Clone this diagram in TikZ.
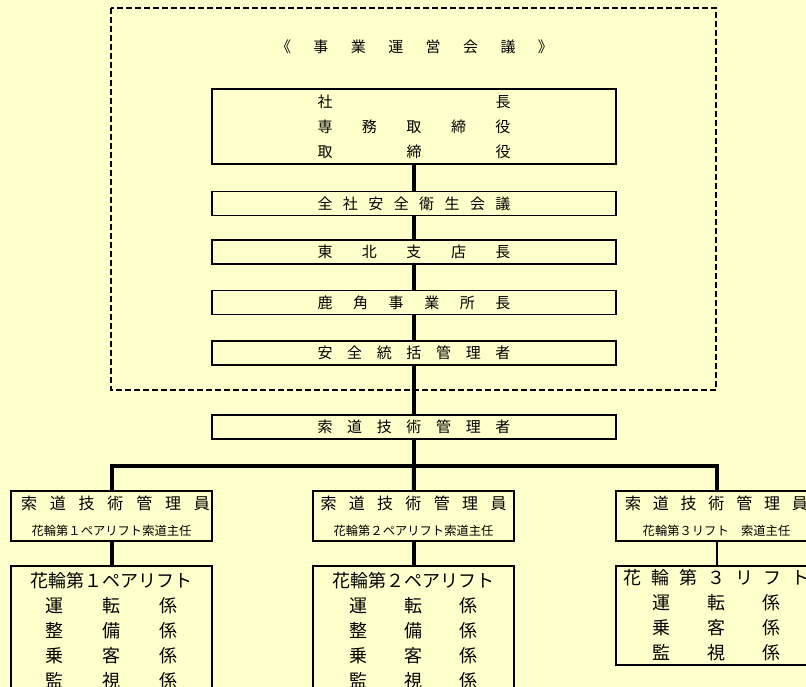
\documentclass[tikz,border=0pt]{standalone}
\usepackage{fontspec}
\setmainfont{Noto Sans CJK JP}
\definecolor{paper}{HTML}{FFFFCC}
\tikzset{box/.style={draw, line width=1.8pt, inner sep=0pt, minimum width=404pt, minimum height=24pt, align=center, font=\fontsize{15}{25}\selectfont}}
\tikzset{subbox/.style={box, minimum width=201pt, minimum height=50pt, font=\fontsize{16}{26}\selectfont}}
\tikzset{liftbox/.style={box, minimum width=201pt, font=\fontsize{18}{25}\selectfont}}
\tikzset{link/.style={line width=4pt}}
\tikzset{thinlink/.style={line width=2pt}}
\tikzset{frame/.style={line width=1.7pt, dash pattern=on 6pt off 3pt}}
\newcommand{\spread}[2]{\makebox[#1][s]{#2}}
\newcommand{\sub}[1]{{\fontsize{12.3}{14}\selectfont #1}}

\begin{document}
\begin{tikzpicture}[x=1pt, y=-1pt]
		% Page
		\useasboundingbox (0,0) rectangle (806,687);
		\clip (0,0) rectangle (806,687);
		\fill[paper] (0,0) rectangle (806,687);

		% Meeting frame
		\draw[frame] (111,8) rectangle (716,390);
		\node[font=\fontsize{15}{15}\selectfont] (meeting) at (414.5,47) {\spread{277pt}{《 事 業 運 営 会 議 》}};

		% Main line
		\node[box, minimum height=75pt] (board) at (414,126.5) {\spread{193pt}{社 長}\\ \spread{193pt}{専 務 取 締 役}\\ \spread{193pt}{取 締 役}};
		\node[box] (safety) at (414,203.5) {\spread{193pt}{全 社 安 全 衛 生 会 議}};
		\node[box] (branch) at (414,252) {\spread{193pt}{東 北 支 店 長}};
		\node[box] (office) at (414,302.5) {\spread{193pt}{鹿 角 事 業 所 長}};
		\node[box] (general) at (414,353) {\spread{193pt}{安 全 統 括 管 理 者}};
		\node[box] (chief) at (414,427) {\spread{193pt}{索 道 技 術 管 理 者}};
		\coordinate (bar) at (414,466);

		% Lift engineers
		\node[subbox] (eng1) at (111.5,516) {\hspace*{8pt}\spread{189pt}{索 道 技 術 管 理 員}\\ \sub{花輪第１ペアリフト索道主任}};
		\node[subbox] (eng2) at (413.5,516) {\spread{186pt}{索 道 技 術 管 理 員}\\ \sub{花輪第２ペアリフト索道主任}};
		\node[subbox] (eng3) at (716.5,516) {\spread{183pt}{索 道 技 術 管 理 員}\\ \sub{花輪第３リフト　索道主任}};

		% Lift staff
		\node[liftbox, minimum height=129pt] (lift1) at (111.5,630.5) {花輪第１ペアリフト\\ \spread{132pt}{運 転 係}\\ \spread{132pt}{整 備 係}\\ \spread{132pt}{乗 客 係}\\ \spread{132pt}{監 視 係}};
		\node[liftbox, minimum height=129pt] (lift2) at (413.5,630.5) {花輪第２ペアリフト\\ \spread{128pt}{運 転 係}\\ \spread{128pt}{整 備 係}\\ \spread{128pt}{乗 客 係}\\ \spread{128pt}{監 視 係}};
		\node[liftbox, minimum height=99pt] (lift3) at (716.5,615.5) {\spread{186pt}{花 輪 第 ３ リ フ ト}\\ \spread{129pt}{運 転 係}\\ \spread{129pt}{乗 客 係}\\ \spread{129pt}{監 視 係}};

		% Links
		\draw[link] (board) -- (safety);
		\draw[link] (safety) -- (branch);
		\draw[link] (branch) -- (office);
		\draw[link] (office) -- (general);
		\draw[link] (general) -- (chief);
		\draw[link] (chief) -- (bar);
		\draw[link] (eng1) |- (bar) -| (eng3);
		\draw[link] (bar) -- (eng2);
		\draw[link] (eng1) -- (lift1);
		\draw[link] (eng2) -- (lift2);
		\draw[thinlink] (eng3) -- (lift3);
	\end{tikzpicture}
\end{document}
